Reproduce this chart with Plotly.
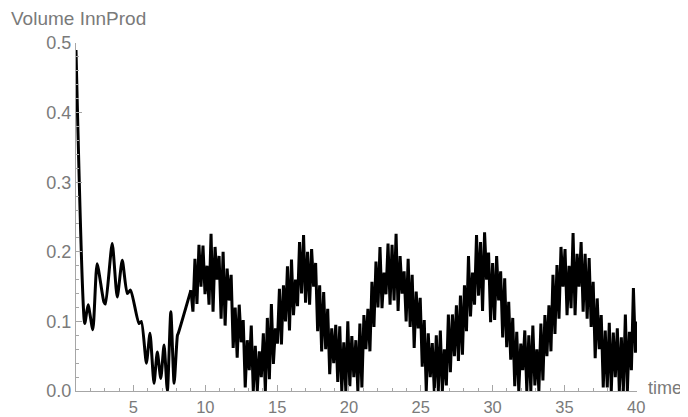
import numpy as np
import plotly.graph_objects as go

# ---- data ----
early_t = [1.0, 1.61, 1.84, 2.17, 2.47, 2.94, 3.05, 3.52, 3.87, 4.22, 4.57, 4.80,
           5.38, 5.55, 5.90, 6.15, 6.43, 6.66, 6.90, 7.13, 7.36, 7.60, 7.83, 8.06, 8.12, 9.0]
early_v = [0.49, 0.097, 0.124, 0.088, 0.183, 0.128, 0.125, 0.212, 0.135, 0.188, 0.140, 0.145,
           0.097, 0.10, 0.04, 0.083, 0.011, 0.056, 0.018, 0.066, 0.0, 0.114, 0.011, 0.08, 0.083, 0.145]

osc_start = 9.0
osc_step = 0.14
osc_v = [
    0.145, 0.114, 0.19, 0.125, 0.21, 0.15, 0.209, 0.139, 0.18, 0.124,
    0.226, 0.114, 0.207, 0.16, 0.194, 0.104, 0.2, 0.094, 0.176, 0.13,
    0.167, 0.062, 0.12, 0.048, 0.124, 0.07, 0.102, 0.005, 0.073, 0.03,
    0.094, 0.0, 0.065, 0.0, 0.057, 0.02, 0.083, 0.0, 0.105, 0.017,
    0.125, 0.039, 0.09, 0.068, 0.147, 0.067, 0.152, 0.1, 0.179, 0.087,
    0.189, 0.109, 0.16, 0.122, 0.214, 0.14, 0.224, 0.127, 0.2, 0.124,
    0.204, 0.15, 0.184, 0.086, 0.152, 0.057, 0.142, 0.06, 0.118, 0.024,
    0.09, 0.04, 0.095, 0.013, 0.093, 0.0, 0.07, 0.0, 0.1, 0.007,
    0.079, 0.02, 0.073, 0.0, 0.097, 0.005, 0.109, 0.06, 0.118, 0.057,
    0.157, 0.092, 0.186, 0.12, 0.207, 0.119, 0.17, 0.139, 0.212, 0.124,
    0.21, 0.13, 0.226, 0.115, 0.194, 0.14, 0.172, 0.1, 0.19, 0.092,
    0.167, 0.062, 0.143, 0.09, 0.134, 0.035, 0.102, 0.0, 0.083, 0.02,
    0.069, 0.0, 0.08, 0.0, 0.087, 0.0, 0.06, 0.008, 0.11, 0.027,
    0.11, 0.05, 0.123, 0.043, 0.137, 0.052, 0.152, 0.086, 0.194, 0.107,
    0.17, 0.124, 0.224, 0.137, 0.214, 0.115, 0.228, 0.16, 0.199, 0.099,
    0.184, 0.102, 0.194, 0.13, 0.172, 0.077, 0.162, 0.063, 0.128, 0.045,
    0.105, 0.007, 0.085, 0.0, 0.068, 0.03, 0.087, 0.0, 0.08, 0.0,
    0.094, 0.008, 0.06, 0.0, 0.097, 0.015, 0.109, 0.05, 0.123, 0.057,
    0.167, 0.082, 0.181, 0.104, 0.207, 0.15, 0.204, 0.109, 0.18, 0.119,
    0.227, 0.109, 0.197, 0.15, 0.214, 0.114, 0.197, 0.104, 0.191, 0.092,
    0.157, 0.047, 0.133, 0.06, 0.109, 0.005, 0.087, 0.005, 0.098, 0.0,
    0.084, 0.02, 0.09, 0.0, 0.077, 0.0, 0.11, 0.0, 0.085, 0.03,
    0.148, 0.055,
]
end_t = [40.0]
end_v = [0.1]

x_ticks = [5, 10, 15, 20, 25, 30, 35, 40]
y_ticks = [0.0, 0.1, 0.2, 0.3, 0.4, 0.5]
y_tick_text = ["0.0", "0.1", "0.2", "0.3", "0.4", "0.5"]

osc_t = list(np.round(osc_start + osc_step * np.arange(len(osc_v)), 3)) + end_t
osc_all = osc_v + end_v

FONT = "Liberation Sans"
TXT = "#7a7a7a"
AX = "#a6a6a6"
FS = 18

fig = go.Figure()
fig.add_trace(go.Scatter(x=early_t, y=early_v, mode="lines",
                         line=dict(color="black", width=3, shape="spline", smoothing=0.6),
                         hoverinfo="skip", showlegend=False))
fig.add_trace(go.Scatter(x=[early_t[-1]] + osc_t, y=[early_v[-1]] + osc_all, mode="lines",
                         line=dict(color="black", width=3),
                         hoverinfo="skip", showlegend=False))

# the page body adds an 8px offset, so the figure is 8px smaller and shifted
fig.update_layout(
    width=680, height=409,
    margin=dict(l=68, r=51, t=35, b=26),
    paper_bgcolor="white", plot_bgcolor="white",
    font=dict(family=FONT, size=FS, color=TXT),
    xaxis=dict(range=[1, 40.05], showgrid=False, zeroline=False, automargin=False,
               showline=True, linecolor=AX, linewidth=1,
               tickmode="array", tickvals=x_ticks, ticks="inside", ticklen=6,
               tickcolor=AX, tickfont=dict(family=FONT, size=16.5, color=TXT),
               ticklabelstandoff=1,
               minor=dict(dtick=1, tick0=0, ticks="inside", ticklen=3, tickcolor=AX, showgrid=False)),
    yaxis=dict(range=[0, 0.5], showgrid=False, zeroline=False, automargin=False,
               showline=True, linecolor=AX, linewidth=1,
               tickmode="array", tickvals=y_ticks, ticktext=y_tick_text,
               ticks="inside", ticklen=6, tickcolor=AX,
               tickfont=dict(family=FONT, size=FS, color=TXT),
               ticklabelstandoff=0,
               minor=dict(dtick=0.02, tick0=0, ticks="inside", ticklen=3, tickcolor=AX, showgrid=False)),
    annotations=[
        dict(text="Volume InnProd", xref="paper", yref="paper", x=-0.1194, y=1.0718,
             xanchor="left", yanchor="middle", showarrow=False,
             font=dict(family=FONT, size=19, color=TXT)),
        dict(text="time", xref="paper", yref="paper", x=1.0838, y=0.01,
             xanchor="right", yanchor="middle", showarrow=False,
             font=dict(family=FONT, size=18, color=TXT)),
    ],
)

fig.write_html("out.html")
